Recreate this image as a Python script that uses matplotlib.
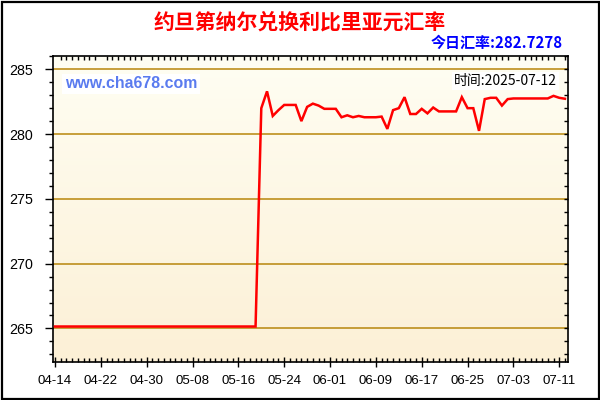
import numpy as np
import pandas as pd
import matplotlib
matplotlib.use("Agg")
import matplotlib.pyplot as plt
import matplotlib.dates as mdates
from matplotlib.ticker import MultipleLocator
from matplotlib.patches import Rectangle

# ---------------- data ----------------
start_date = "2025-04-14"
flat_values = [265.15] * 36
rise_values = [282.0, 283.3, 281.4, 281.85, 282.25, 282.25, 282.25, 281.0, 282.1, 282.35,
               282.2, 281.95, 281.95, 281.95, 281.3, 281.45, 281.3, 281.4, 281.3, 281.3,
               281.3, 281.35, 280.4, 281.85, 282.0, 282.85, 281.55, 281.55, 281.95, 281.6,
               282.05, 281.75, 281.75, 281.75, 281.75, 282.85, 282.0, 282.0, 280.25, 282.7,
               282.8, 282.8, 282.2, 282.7, 282.75, 282.75, 282.75, 282.75, 282.75, 282.75,
               282.75, 282.95, 282.8, 282.7278]
rates = flat_values + rise_values
title = "约旦第纳尔兑换利比里亚元汇率"
today_label = "今日汇率:282.7278"
site_label = "www.cha678.com"
time_label = "时间:2025-07-12"
y_ticks = [265, 270, 275, 280, 285]

dates = pd.date_range(start_date, periods=len(rates), freq="D")

# ---------------- figure ----------------
fig = plt.figure(figsize=(6, 4), dpi=100)
fig.patch.set_facecolor("white")
W, H = 600, 400
ax = fig.add_axes([52.5 / W, 1 - 362 / H, (568 - 52.5) / W, (362 - 55.7) / H])

# gradient background
grad = np.linspace(0, 1, 256).reshape(-1, 1)
top = np.array(matplotlib.colors.to_rgb("#FFFEF3"))
bot = np.array(matplotlib.colors.to_rgb("#FCF0D6"))
img = top[None, None, :] * (1 - grad[:, :, None]) + bot[None, None, :] * grad[:, :, None]
ax.imshow(img, extent=[0, 1, 0, 1], transform=ax.transAxes, aspect="auto", zorder=0)

for v in y_ticks:
    ax.axhline(v, color="#B8860B", lw=1.1, zorder=1)

ax.plot(dates, rates, color="#FF0000", lw=1.8, zorder=3, solid_joinstyle="miter")

x0 = dates[0] - pd.Timedelta(days=0.44)
x1 = dates[0] + pd.Timedelta(days=89.53)
ax.set_xlim(x0, x1)
ax.set_ylim(262.41, 286.05)

major_dates = dates[::8]
ax.set_xticks(major_dates)
ax.set_xticklabels([d.strftime("%m-%d") for d in major_dates])
ax.xaxis.set_minor_locator(mdates.DayLocator())
ax.set_yticks(y_ticks)
ax.set_yticklabels([str(v) for v in y_ticks])
ax.yaxis.set_minor_locator(MultipleLocator(1))

for lab in ax.get_xticklabels():
    lab.set_fontfamily("Liberation Sans")
    lab.set_fontsize(9.5)
for lab in ax.get_yticklabels():
    lab.set_fontfamily("Liberation Sans")
    lab.set_fontsize(10.3)

ax.tick_params(axis="x", which="major", direction="inout", length=7, width=1, pad=6,
               colors="black", top=False)
ax.tick_params(axis="x", which="minor", direction="in", length=3, width=1, top=True,
               bottom=True)
ax.tick_params(axis="y", which="major", direction="out", length=6, width=1, pad=8,
               right=False)
ax.tick_params(axis="y", which="minor", direction="out", length=3, width=1, right=False)

# right spine inward ticks
axr = ax.twinx()
axr.set_ylim(ax.get_ylim())
axr.yaxis.set_major_locator(MultipleLocator(1))
axr.tick_params(axis="y", which="major", direction="in", length=3, width=1, labelright=False)
axr.set_yticklabels([])
for s in axr.spines.values():
    s.set_visible(False)

for s in ax.spines.values():
    s.set_color("black")
    s.set_linewidth(1.2)

# texts
fig.text(0.5, 1 - 22 / H, title, ha="center", va="center", color="#FF0000",
         fontsize=15, fontweight="bold", family=["Noto Sans CJK SC", "DejaVu Sans"])
fig.text(563 / W, 1 - 43 / H, today_label, ha="right", va="center", color="#0000FF",
         fontsize=10.8, fontweight="bold", family=["Noto Sans CJK SC", "DejaVu Sans"])
fig.text(65 / W, 1 - 84 / H, site_label, ha="left", va="center", color="#5A7BEF",
         fontsize=11.4, fontweight="bold", family=["Liberation Sans"],
         bbox=dict(facecolor="white", edgecolor="none", pad=2), zorder=5)
fig.text(557 / W, 1 - 81 / H, time_label, ha="right", va="center", color="black",
         fontsize=10, family=["Noto Sans CJK SC", "DejaVu Sans"],
         bbox=dict(facecolor="white", edgecolor="none", pad=1.5), zorder=5)

# outer frame
fig.patches.append(Rectangle((1.5 / W, 1.5 / H), 1 - 3 / W, 1 - 3 / H,
                             transform=fig.transFigure, fill=False,
                             edgecolor="black", lw=1.6))

fig.savefig("out.png", dpi=100)
